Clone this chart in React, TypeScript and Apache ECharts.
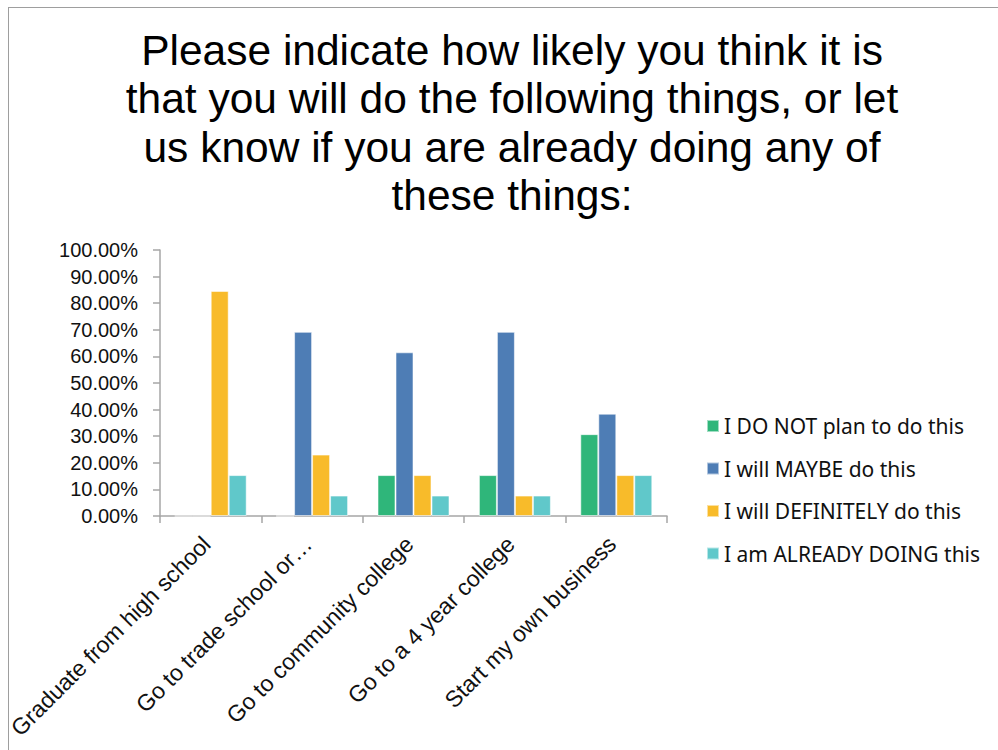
import React, { useEffect, useRef } from "react";
import * as echarts from "echarts";

const titleLines = [
  "Please indicate how likely you think it is",
  "that you will do the following things, or let",
  "us know if you are already doing any of",
  "these things:",
];

const categories = [
  "Graduate from high school",
  "Go to trade school or…",
  "Go to community college",
  "Go to a 4 year college",
  "Start my own business",
];

const seriesNames = [
  "I DO NOT plan to do this",
  "I will MAYBE do this",
  "I will DEFINITELY do this",
  "I am ALREADY DOING this",
];

const doNotPlan = [0, 0, 15.38, 15.38, 30.77];
const maybe = [0, 69.23, 61.54, 69.23, 38.46];
const definitely = [84.62, 23.08, 15.38, 7.69, 15.38];
const alreadyDoing = [15.38, 7.69, 7.69, 7.69, 15.38];

const seriesValues = [doNotPlan, maybe, definitely, alreadyDoing];
const colors = ["#2FB67A", "#4E7DB5", "#F8BB2A", "#60C8CA"];

const yMin = 0;
const yMax = 100;
const yInterval = 10;

export default function App() {
  const ref = useRef<HTMLDivElement>(null);
  useEffect(() => {
    document.body.style.margin = "0";
    if (!ref.current) return;
    const chart = echarts.init(ref.current, null, { renderer: "svg" });
    const font = "'Liberation Sans', Arial, sans-serif";
    chart.setOption({
      animation: false,
      backgroundColor: "#ffffff",
      color: colors,
      grid: { left: 160, right: 331, top: 250, bottom: 234, containLabel: false },
      xAxis: {
        type: "category",
        data: categories,
        axisLine: { show: true, lineStyle: { color: "#A6A6A6", width: 1.5 } },
        axisTick: { show: true, length: 7, lineStyle: { color: "#A6A6A6", width: 1.5 } },
        axisLabel: {
          rotate: 45,
          interval: 0,
          margin: 20,
          fontSize: 23,
          color: "#111",
          fontFamily: font,
          verticalAlign: "middle",
          padding: [0, 6, 0, 0],
        },
      },
      yAxis: {
        type: "value",
        min: yMin,
        max: yMax,
        interval: yInterval,
        splitLine: { show: false },
        axisLine: { show: true, lineStyle: { color: "#A6A6A6", width: 1.5 } },
        axisTick: { show: true, length: 7, lineStyle: { color: "#A6A6A6", width: 1.5 } },
        axisLabel: {
          formatter: (v: number) => v.toFixed(2) + "%",
          fontSize: 20,
          lineHeight: 22,
          color: "#111",
          margin: 22,
          fontFamily: font,
        },
      },
      legend: {
        orient: "vertical",
        left: 701,
        top: 410.5,
        itemWidth: 12,
        itemHeight: 12,
        itemGap: 21.5,
        icon: "rect",
        data: seriesNames,
        textStyle: { fontSize: 21, color: "#111", fontFamily: "'Noto Sans', sans-serif" },
      },
      series: seriesNames.map((name, i) => ({
        name,
        type: "bar",
        data: seriesValues[i],
        barGap: "0%",
        barCategoryGap: "29%",
        itemStyle: { color: colors[i], borderColor: "rgba(255,255,255,0.55)", borderWidth: 1 },
      })),
      graphic: [
        {
          type: "line",
          shape: { x1: 8, y1: 7.5, x2: 998, y2: 7.5 },
          style: { stroke: "#9E9E9E", lineWidth: 1 },
        },
        {
          type: "line",
          shape: { x1: 8.5, y1: 7, x2: 8.5, y2: 750 },
          style: { stroke: "#9E9E9E", lineWidth: 1 },
        },
        {
          type: "text",
          x: 512,
          y: 26,
          style: {
            text: titleLines.join("\n"),
            textAlign: "center",
            textVerticalAlign: "top",
            fontSize: 42.5,
            lineHeight: 48.5,
            fontFamily: font,
            fill: "#000",
          },
        },
      ],
    });
    return () => chart.dispose();
  }, []);
  return <div ref={ref} style={{ width: 998, height: 750 }} />;
}
